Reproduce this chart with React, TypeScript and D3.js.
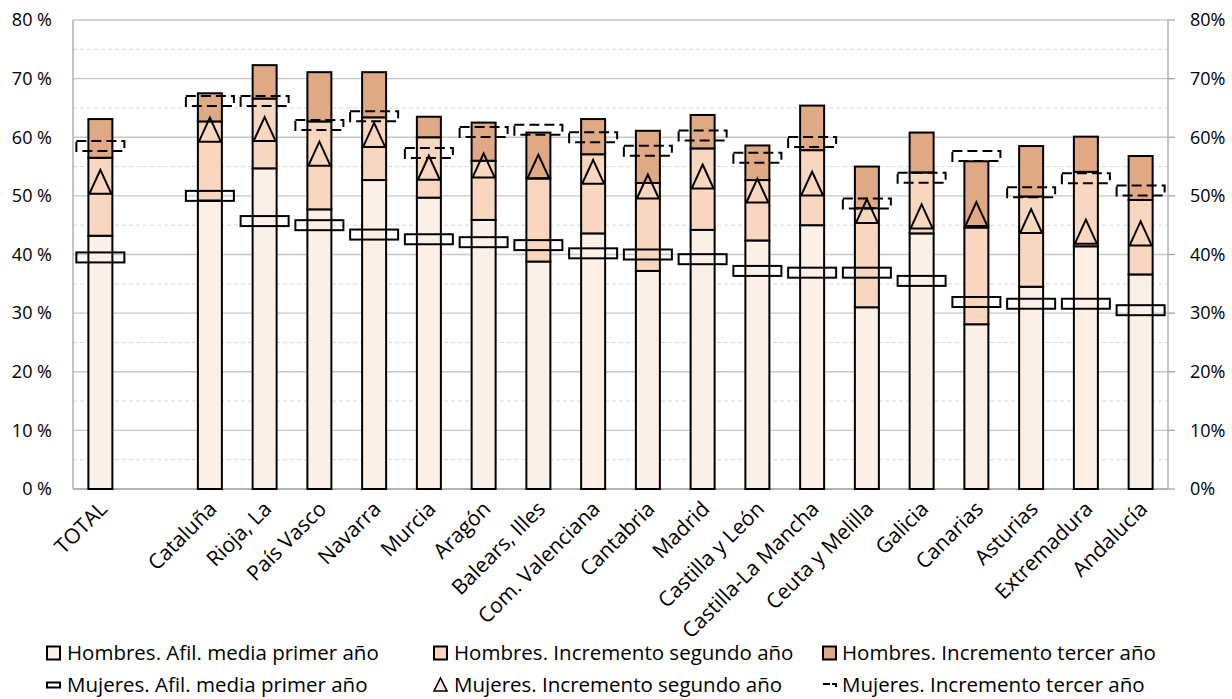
import React from "react";
import * as d3 from "d3";

const categories = ["TOTAL", "", "Cataluña", "Rioja, La", "País Vasco", "Navarra", "Murcia", "Aragón", "Balears, Illes", "Com. Valenciana", "Cantabria", "Madrid", "Castilla y León", "Castilla-La Mancha", "Ceuta y Melilla", "Galicia", "Canarias", "Asturias", "Extremadura", "Andalucía"];

// Hombres (stacked increments, %)
const hombresPrimer = [43.2, null, 49.2, 54.7, 47.7, 52.7, 49.7, 45.9, 38.8, 43.6, 37.2, 44.2, 42.4, 45.0, 31.0, 43.6, 28.1, 34.5, 41.4, 36.6];
const hombresSegundo = [13.3, null, 13.5, 11.9, 15.0, 10.7, 10.3, 10.1, 14.2, 13.5, 15.0, 13.9, 10.3, 12.8, 16.9, 10.4, 16.5, 15.4, 12.7, 12.7];
const hombresTercer = [6.6, null, 4.8, 5.7, 8.4, 7.7, 3.5, 6.5, 7.8, 6.0, 8.9, 5.7, 5.9, 7.6, 7.1, 6.8, 11.3, 8.6, 6.0, 7.5];

// Mujeres (cumulative levels, %)
const mujeresPrimer = [39.5, null, 50.0, 45.7, 45.0, 43.4, 42.6, 42.1, 41.6, 40.2, 40.0, 39.2, 37.2, 36.9, 36.9, 35.5, 31.9, 31.6, 31.6, 30.5];
const mujeresSegundo = [52.4, null, 61.3, 61.4, 57.2, 60.4, 54.8, 55.2, 55.0, 54.1, 51.6, 53.3, 50.9, 52.1, 47.4, 46.5, 46.9, 45.7, 43.9, 43.6];
const mujeresTercer = [58.5, null, 66.2, 66.2, 62.1, 63.6, 57.3, 60.9, 61.3, 60.0, 57.7, 60.3, 56.5, 59.2, 48.7, 53.1, 56.8, 50.6, 53.0, 50.9];

const leftTicks = [0, 10, 20, 30, 40, 50, 60, 70, 80];
const minorTicks = [5, 15, 25, 35, 45, 55, 65, 75];

const legendLabels = [
  "Hombres. Afil. media primer año",
  "Hombres. Incremento segundo año",
  "Hombres. Incremento tercer año",
  "Mujeres. Afil. media primer año",
  "Mujeres. Incremento segundo año",
  "Mujeres. Incremento tercer año",
];

const COLORS = ["#FCF0E6", "#F8D7BE", "#DFA985"];
const FONT = "'Open Sans', 'Noto Sans', sans-serif";

export default function App() {
  const L = 73, R = 1168, T = 20, B = 489;
  const p = 1 - 24 / ((R - L) / categories.length);
  const x = d3.scaleBand<number>().domain(categories.map((_, i) => i)).range([L, R]).paddingInner(p).paddingOuter(p / 2);
  const y = d3.scaleLinear().domain([0, 80]).range([B, T]);
  const bw = x.bandwidth();
  const cx = (i: number) => (x(i) as number) + bw / 2;

  const stackData = categories.map((c, i) => ({ i, a: hombresPrimer[i] ?? 0, b: hombresSegundo[i] ?? 0, c: hombresTercer[i] ?? 0 }));
  const series = d3.stack<any>().keys(["a", "b", "c"])(stackData);

  const mw = 48, mh = 10;
  const triW = 22, triH = 24;
  const tri = (px: number, py: number) =>
    `M${px},${py - triH / 2}L${px + triW / 2},${py + triH / 2}L${px - triW / 2},${py + triH / 2}Z`;

  const legendCols = [47, 434, 823];
  const legendTextX = [67, 454, 842];
  const legendRows = [653, 685];

  return (
    <svg width={1232} height={699} style={{ position: "absolute", left: 0, top: 0, background: "#fff" }} fontFamily={FONT}>
      {minorTicks.map((t) => (
        <line key={"m" + t} x1={L} x2={R} y1={y(t)} y2={y(t)} stroke="#D9D9D9" strokeWidth={1} strokeDasharray="4,3" />
      ))}
      {leftTicks.map((t) => (
        <line key={"g" + t} x1={L} x2={R} y1={y(t)} y2={y(t)} stroke="#C8C8C8" strokeWidth={1.3} />
      ))}
      <line x1={L} x2={L} y1={T} y2={B} stroke="#A6A6A6" strokeWidth={1.3} />
      <line x1={R} x2={R} y1={T} y2={B} stroke="#A6A6A6" strokeWidth={1.3} />
      <line x1={L} x2={R} y1={B} y2={B} stroke="#A6A6A6" strokeWidth={1.3} />
      {leftTicks.map((t) => (
        <line key={"rt" + t} x1={R} x2={R + 7} y1={y(t)} y2={y(t)} stroke="#A6A6A6" strokeWidth={1.3} />
      ))}
      {leftTicks.map((t) => (
        <text key={"lt" + t} x={52} y={y(t)} dy="0.35em" textAnchor="end" fontSize={18} fill="#000">{`${t} %`}</text>
      ))}
      {leftTicks.map((t) => (
        <text key={"rl" + t} x={1190} y={y(t)} dy="0.35em" textAnchor="start" fontSize={18} fill="#000">{`${t}%`}</text>
      ))}

      {series.map((s, si) => (
        <g key={"s" + si}>
          {s.map((d, i) =>
            hombresPrimer[i] == null ? null : (
              <rect key={i} x={x(i)} y={y(d[1])} width={bw} height={y(d[0]) - y(d[1])} fill={COLORS[si]} stroke="#000" strokeWidth={2} />
            )
          )}
        </g>
      ))}

      {categories.map((c, i) =>
        mujeresPrimer[i] == null ? null : (
          <g key={"w" + i} fill="none" stroke="#000" strokeWidth={2}>
            <rect x={cx(i) - mw / 2} y={y(mujeresPrimer[i] as number) - mh / 2} width={mw} height={mh} />
            <path d={tri(cx(i), y(mujeresSegundo[i] as number))} strokeLinejoin="miter" />
            <rect x={cx(i) - mw / 2} y={y(mujeresTercer[i] as number) - mh / 2} width={mw} height={mh} strokeDasharray="10,5" />
          </g>
        )
      )}

      {categories.map((c, i) => (
        <text key={"c" + i} transform={`translate(${cx(i) + 3},${505}) rotate(-45)`} textAnchor="end" dy="0.35em" fontSize={21} fill="#000">{c}</text>
      ))}

      {legendLabels.map((lab, k) => {
        const col = k % 3, row = Math.floor(k / 3);
        const ix = legendCols[col], iy = legendRows[row];
        let icon: any;
        if (row === 0) {
          icon = <rect x={ix} y={iy - 6.5} width={13} height={13} fill={COLORS[col]} stroke="#000" strokeWidth={2} />;
        } else if (col === 0) {
          icon = <rect x={ix} y={iy - 2.5} width={13} height={5} fill="#fff" stroke="#000" strokeWidth={2} />;
        } else if (col === 1) {
          icon = <path d={`M${ix + 6.5},${iy - 7}L${ix + 13},${iy + 6}L${ix},${iy + 6}Z`} fill="#FBE9DC" stroke="#000" strokeWidth={1.6} />;
        } else {
          icon = <path d={`M${ix},${iy - 1}H${ix + 7}M${ix + 9},${iy - 1}H${ix + 13}V${iy + 2}`} fill="none" stroke="#000" strokeWidth={2} />;
        }
        return (
          <g key={"lg" + k}>
            {icon}
            <text x={legendTextX[col]} y={iy} dy="0.35em" fontSize={20.5} fill="#000">{lab}</text>
          </g>
        );
      })}
    </svg>
  );
}
